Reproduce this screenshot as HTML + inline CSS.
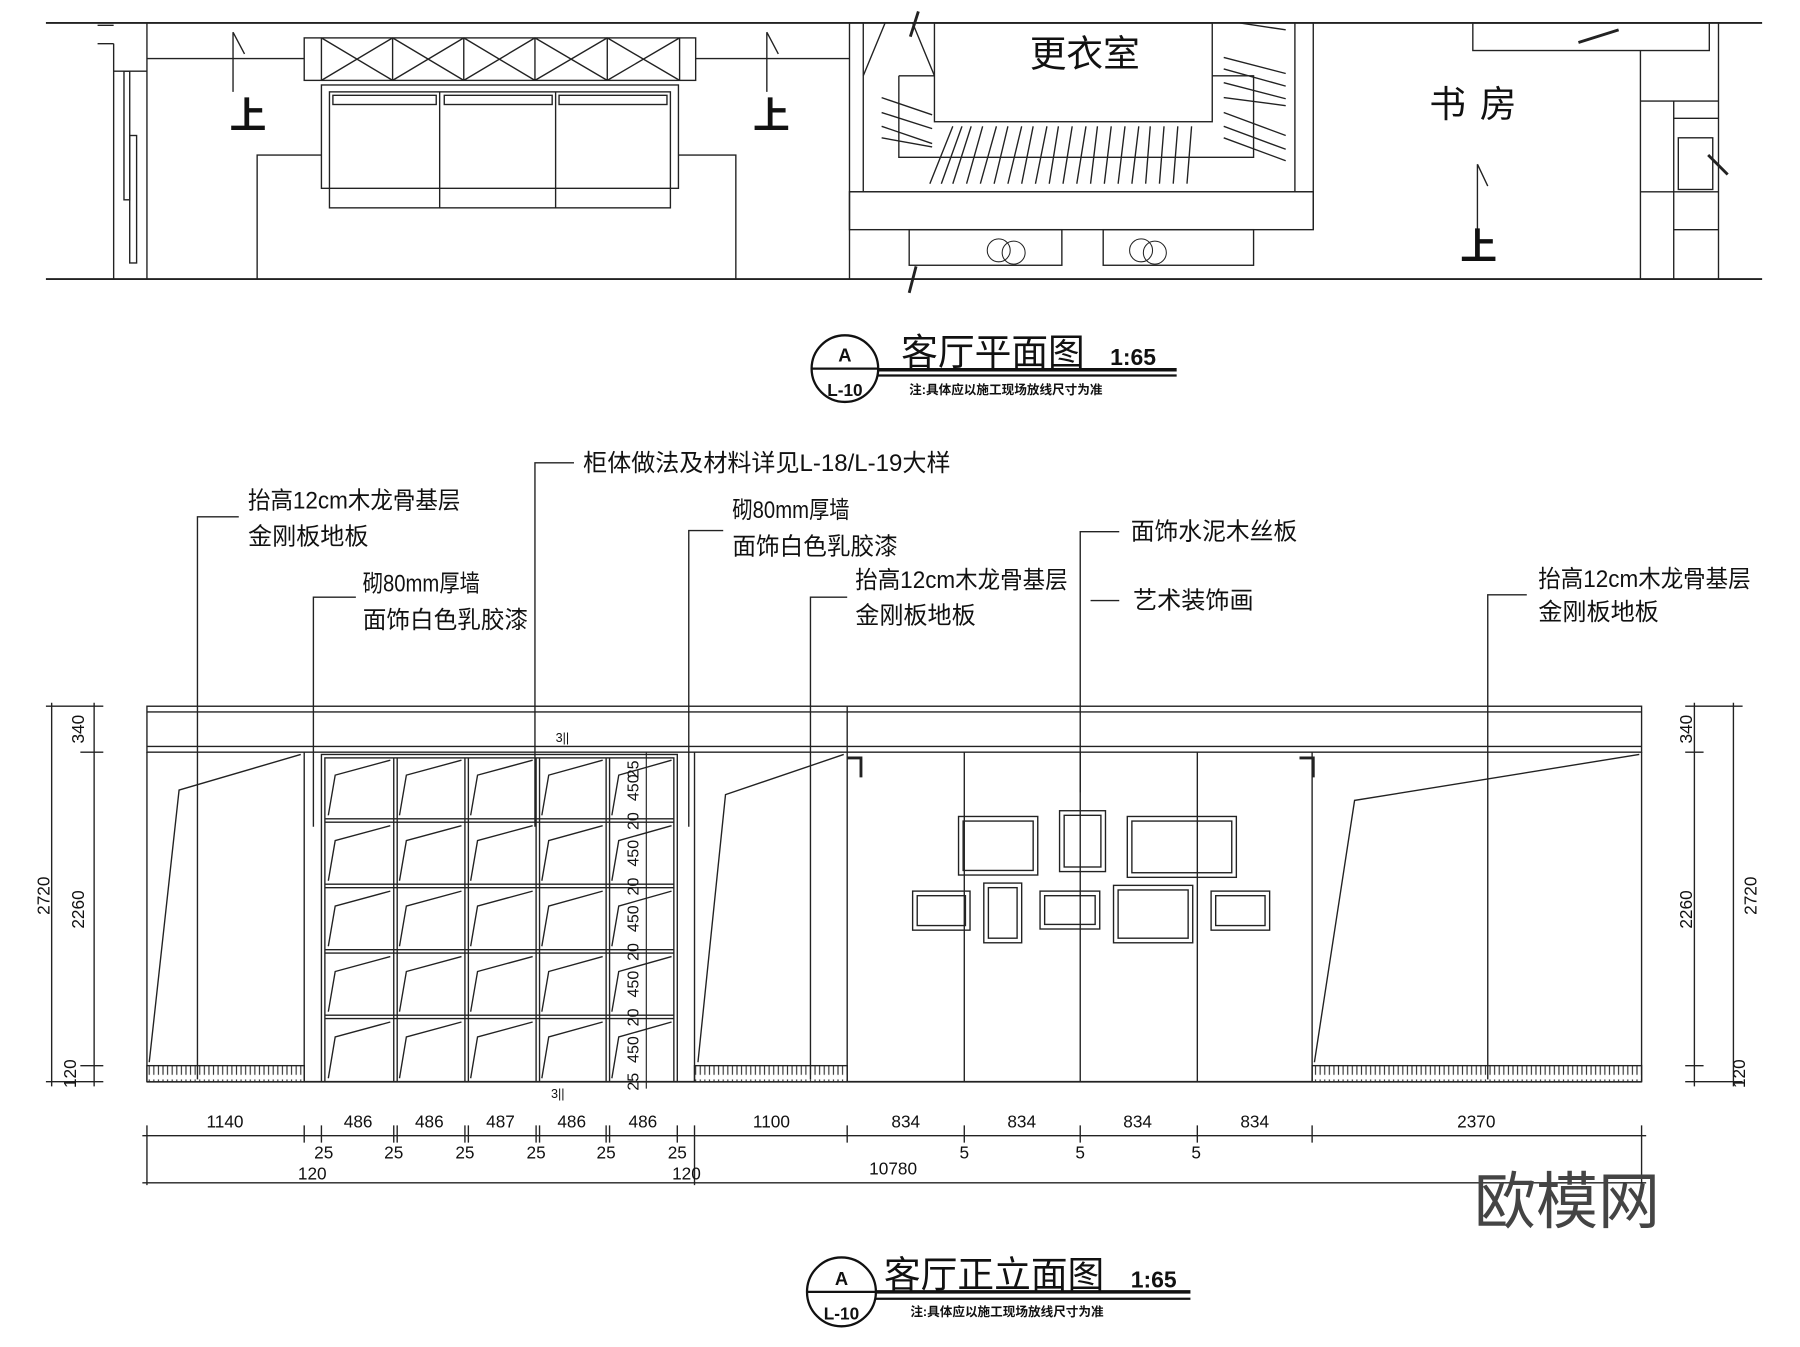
<!DOCTYPE html>
<html><head><meta charset="utf-8"><style>html,body{margin:0;padding:0;background:#fff}svg{display:block}</style></head>
<body>
<svg width="1800" height="1347" viewBox="0 0 1568 1173" preserveAspectRatio="none" xmlns="http://www.w3.org/2000/svg" font-family="'Liberation Sans','Noto Sans CJK SC',sans-serif">
<defs>
<pattern id="h" width="4" height="14" patternUnits="userSpaceOnUse"><rect width="4" height="14" fill="#fff"/><line x1="2" y1="2" x2="2" y2="12" stroke="#333" stroke-width="1"/></pattern>
</defs>
<g fill="none" stroke="#222" stroke-width="1.2">
<!-- PLAN -->
<line x1="40" y1="20" x2="1535" y2="20" stroke-width="1.6"/>
<line x1="40" y1="243" x2="1535" y2="243" stroke-width="1.6"/>
<line x1="99" y1="38" x2="99" y2="243"/><line x1="128" y1="20" x2="128" y2="243"/>
<line x1="85" y1="22" x2="99" y2="22"/><line x1="85" y1="38" x2="99" y2="38"/><line x1="99" y1="62" x2="128" y2="62"/>
<rect x="108" y="62" width="5" height="112"/><rect x="113" y="118" width="6" height="111"/>
<line x1="128" y1="51" x2="265" y2="51"/><line x1="606" y1="51" x2="740" y2="51"/>
<rect x="265" y="33" width="341" height="37"/>
<path d="M280 33V70M342 33V70M404 33V70M466 33V70M529 33V70M592 33V70M280 33L342 70M342 33L280 70M342 33L404 70M404 33L342 70M404 33L466 70M466 33L404 70M466 33L529 70M529 33L466 70M529 33L592 70M592 33L529 70"/>
<rect x="280" y="74" width="311" height="90"/>
<rect x="287" y="80" width="297" height="101"/>
<line x1="383" y1="80" x2="383" y2="181"/><line x1="484" y1="80" x2="484" y2="181"/>
<rect x="290" y="83" width="90" height="8"/><rect x="387" y="83" width="94" height="8"/><rect x="487" y="83" width="94" height="8"/>
<path d="M224 243V135H280M591 135H641V243"/>
<path d="M203 28V80M203 28L213 47M668 28V80M668 28L678 47M1287 143V200M1287 143L1296 162"/>
<!-- dressing room -->
<line x1="740" y1="20" x2="740" y2="243"/>
<line x1="752" y1="20" x2="752" y2="167"/>
<rect x="814" y="20" width="242" height="86"/>
<path d="M783 66H814M1056 66H1092V137H783V66"/>
<path d="M771 20L752 66M795 20L814 66"/>
<line x1="1128" y1="20" x2="1128" y2="167"/><line x1="1144" y1="20" x2="1144" y2="200"/>
<line x1="740" y1="167" x2="1144" y2="167"/>
<rect x="740" y="167" width="404" height="33"/>
<rect x="792" y="200" width="133" height="31"/><rect x="961" y="200" width="131" height="31"/>
<path d="M810 160L830 110M820 160L838 110M830 160L846 110M842 160L856 110M854 160L868 110M866 160L878 110M878 160L890 110M890 160L900 110M902 160L912 110M914 160L922 110M926 160L934 110M938 160L946 110M950 160L956 110M962 160L968 110M974 160L980 110M986 160L992 110M998 160L1002 110M1010 160L1014 110M1022 160L1026 110M1034 160L1038 110"/>
<path d="M768 85L812 100M768 98L812 112M768 110L812 125M768 120L812 128M1066 50L1120 64M1066 60L1120 75M1066 72L1120 86M1066 85L1120 92M1066 98L1120 118M1066 110L1120 130M1066 120L1120 140M1080 20L1120 26"/>
<path d="M800 10L793 32M798 232L792 255" stroke-width="2.5"/>
<g stroke-width="0.9"><circle cx="870" cy="218" r="10"/><circle cx="883" cy="220" r="10"/><circle cx="994" cy="218" r="10"/><circle cx="1006" cy="220" r="10"/></g>
<!-- study -->
<rect x="1283" y="20" width="206" height="24"/>
<path d="M1375 37L1410 26" stroke-width="2.5"/>
<line x1="1429" y1="44" x2="1429" y2="243"/><line x1="1458" y1="88" x2="1458" y2="243"/><line x1="1497" y1="20" x2="1497" y2="243"/>
<path d="M1429 88H1497M1458 103H1497M1458 167H1497M1458 200H1497M1429 167H1458"/>
<rect x="1462" y="120" width="30" height="45"/>
<path d="M1488 135L1505 152" stroke-width="2.5"/>
</g>
<g fill="#111" font-size="32">
<text x="200" y="112" font-weight="bold">上</text><text x="656" y="112" font-weight="bold">上</text><text x="1272" y="226" font-weight="bold">上</text>
<text x="897" y="58">更衣室</text>
<text x="1245" y="102">书</text><text x="1289" y="102">房</text>
</g>
<!-- title 1 -->
<g stroke="#111" fill="none" stroke-width="2">
<circle cx="736" cy="321" r="29"/><line x1="707" y1="321" x2="765" y2="321"/>
<line x1="765" y1="322" x2="1025" y2="322" stroke-width="3"/><line x1="765" y1="327" x2="1025" y2="327"/>
</g>
<g fill="#111">
<text x="736" y="315" font-size="16" font-weight="bold" text-anchor="middle">A</text>
<text x="736" y="345" font-size="15" font-weight="bold" text-anchor="middle">L-10</text>
<text x="785" y="318" font-size="32">客厅平面图</text>
<text x="967" y="318" font-size="20" font-weight="bold">1:65</text>
<text x="792" y="343" font-size="11" font-weight="bold">注:具体应以施工现场放线尺寸为准</text>
</g>
<!-- ELEVATION -->
<g fill="none" stroke="#222" stroke-width="1.2">
<rect x="128" y="615" width="1302" height="40"/>
<line x1="128" y1="620" x2="1430" y2="620"/><line x1="128" y1="650" x2="1430" y2="650"/>
<line x1="738" y1="615" x2="738" y2="655"/>
<line x1="128" y1="655" x2="128" y2="942"/><line x1="1430" y1="655" x2="1430" y2="942"/>
<line x1="128" y1="942" x2="1430" y2="942" stroke-width="1.6"/>
<rect x="128" y="928" width="137" height="14" fill="url(#h)"/>
<rect x="605" y="928" width="133" height="14" fill="url(#h)"/>
<rect x="1143" y="928" width="287" height="14" fill="url(#h)"/>
<line x1="265" y1="655" x2="265" y2="942"/><line x1="605" y1="655" x2="605" y2="942"/>
<line x1="738" y1="655" x2="738" y2="942"/><line x1="840" y1="655" x2="840" y2="942"/>
<line x1="941" y1="655" x2="941" y2="942"/><line x1="1043" y1="655" x2="1043" y2="942"/>
<line x1="1143" y1="655" x2="1143" y2="942"/>
<path d="M130 925L156 688L262 657M608 925L632 692L735 657M1145 925L1180 697L1428 657"/>
<rect x="280" y="657" width="310" height="285"/>
<rect x="283" y="660" width="304" height="282"/>
<path d="M343 660V942M346 660V942M405 660V942M408 660V942M467 660V942M470 660V942M528 660V942M531 660V942"/>
<path d="M283 713H587M283 716H587M283 770H587M283 773H587M283 827H587M283 830H587M283 884H587M283 887H587"/>
<path d="M286 710L292 675L340 662M348 710L354 675L402 662M410 710L416 675L464 662M472 710L478 675L525 662M533 710L539 675L585 662
M286 767L292 732L340 719M348 767L354 732L402 719M410 767L416 732L464 719M472 767L478 732L525 719M533 767L539 732L585 719
M286 824L292 789L340 776M348 824L354 789L402 776M410 824L416 789L464 776M472 824L478 789L525 776M533 824L539 789L585 776
M286 881L292 846L340 833M348 881L354 846L402 833M410 881L416 846L464 833M472 881L478 846L525 833M533 881L539 846L585 833
M286 939L292 903L340 890M348 939L354 903L402 890M410 939L416 903L464 890M472 939L478 903L525 890M533 939L539 903L585 890"/>
<line x1="563" y1="655" x2="563" y2="948" stroke-width="1"/>
<path d="M738 660H750V677M1132 660H1144V677" stroke-width="2.5"/>
<!-- frames -->
<rect x="835" y="711" width="69" height="51"/><rect x="839" y="715" width="61" height="43"/>
<rect x="923" y="706" width="40" height="53"/><rect x="927" y="710" width="32" height="45"/>
<rect x="982" y="711" width="95" height="53"/><rect x="986" y="715" width="87" height="45"/>
<rect x="795" y="776" width="50" height="34"/><rect x="799" y="780" width="42" height="26"/>
<rect x="857" y="769" width="33" height="52"/><rect x="861" y="773" width="25" height="44"/>
<rect x="906" y="776" width="52" height="33"/><rect x="910" y="780" width="44" height="25"/>
<rect x="970" y="771" width="69" height="50"/><rect x="974" y="775" width="61" height="42"/>
<rect x="1055" y="776" width="51" height="34"/><rect x="1059" y="780" width="43" height="26"/>
<!-- leaders -->
<path d="M208 450H172V940M310 520H273V720M500 403H466V720M630 462H600V720M738 520H706V940M975 463H941V690M950 523H975M1330 518H1296V940"/>
<!-- dims left -->
<line x1="82" y1="612" x2="82" y2="946"/><line x1="45" y1="612" x2="45" y2="946"/>
<path d="M40 615H90M70 655H90M70 928H90M40 942H90"/>
<line x1="1476" y1="612" x2="1476" y2="946"/><line x1="1510" y1="612" x2="1510" y2="946"/>
<path d="M1468 615H1518M1468 655H1484M1468 928H1484M1468 942H1518"/>
<!-- dims bottom -->
<line x1="124" y1="989" x2="1434" y2="989"/><line x1="124" y1="1030" x2="1434" y2="1030"/>
<path d="M128 980V1032M265 980V995M280 980V995M343 980V995M346 980V995M405 980V995M408 980V995M467 980V995M470 980V995M528 980V995M531 980V995M590 980V995M605 980V1032M738 980V995M840 980V995M941 980V995M1043 980V995M1143 980V995M1430 980V1032"/>
</g>
<g fill="#111" font-size="21">
<text x="216" y="443" textLength="185" lengthAdjust="spacingAndGlyphs">抬高12cm木龙骨基层</text><text x="216" y="474">金刚板地板</text>
<text x="316" y="515" textLength="102" lengthAdjust="spacingAndGlyphs">砌80mm厚墙</text><text x="316" y="547" textLength="144" lengthAdjust="spacingAndGlyphs">面饰白色乳胶漆</text>
<text x="508" y="410" textLength="320" lengthAdjust="spacingAndGlyphs">柜体做法及材料详见L-18/L-19大样</text>
<text x="638" y="451" textLength="102" lengthAdjust="spacingAndGlyphs">砌80mm厚墙</text><text x="638" y="483" textLength="144" lengthAdjust="spacingAndGlyphs">面饰白色乳胶漆</text>
<text x="745" y="512" textLength="185" lengthAdjust="spacingAndGlyphs">抬高12cm木龙骨基层</text><text x="745" y="543">金刚板地板</text>
<text x="985" y="470" textLength="145" lengthAdjust="spacingAndGlyphs">面饰水泥木丝板</text>
<text x="987" y="530">艺术装饰画</text>
<text x="1340" y="511" textLength="185" lengthAdjust="spacingAndGlyphs">抬高12cm木龙骨基层</text><text x="1340" y="540">金刚板地板</text>
</g>
<g fill="#111" font-size="15" font-family="'Liberation Sans Narrow','Liberation Sans',sans-serif">
<text x="196" y="982" text-anchor="middle">1140</text>
<text x="312" y="982" text-anchor="middle">486</text><text x="374" y="982" text-anchor="middle">486</text>
<text x="436" y="982" text-anchor="middle">487</text><text x="498" y="982" text-anchor="middle">486</text>
<text x="560" y="982" text-anchor="middle">486</text><text x="672" y="982" text-anchor="middle">1100</text>
<text x="789" y="982" text-anchor="middle">834</text><text x="890" y="982" text-anchor="middle">834</text>
<text x="991" y="982" text-anchor="middle">834</text><text x="1093" y="982" text-anchor="middle">834</text>
<text x="1286" y="982" text-anchor="middle">2370</text>
<text x="282" y="1009" text-anchor="middle">25</text><text x="343" y="1009" text-anchor="middle">25</text>
<text x="405" y="1009" text-anchor="middle">25</text><text x="467" y="1009" text-anchor="middle">25</text>
<text x="528" y="1009" text-anchor="middle">25</text><text x="590" y="1009" text-anchor="middle">25</text>
<text x="840" y="1009" text-anchor="middle">5</text><text x="941" y="1009" text-anchor="middle">5</text><text x="1042" y="1009" text-anchor="middle">5</text>
<text x="272" y="1027" text-anchor="middle">120</text><text x="598" y="1027" text-anchor="middle">120</text>
<text x="778" y="1023" text-anchor="middle">10780</text>
<text x="484" y="646" font-size="11">3||</text><text x="480" y="956" font-size="11">3||</text>
<text transform="translate(73,635) rotate(-90)" text-anchor="middle">340</text>
<text transform="translate(73,792) rotate(-90)" text-anchor="middle">2260</text>
<text transform="translate(43,780) rotate(-90)" text-anchor="middle">2720</text>
<text transform="translate(66,935) rotate(-90)" text-anchor="middle">120</text>
<text transform="translate(1474,635) rotate(-90)" text-anchor="middle">340</text>
<text transform="translate(1474,792) rotate(-90)" text-anchor="middle">2260</text>
<text transform="translate(1530,780) rotate(-90)" text-anchor="middle">2720</text>
<text transform="translate(1520,935) rotate(-90)" text-anchor="middle">120</text>
<g font-size="14">
<text transform="translate(556,670) rotate(-90)" text-anchor="middle">25</text>
<text transform="translate(556,686) rotate(-90)" text-anchor="middle">450</text>
<text transform="translate(556,715) rotate(-90)" text-anchor="middle">20</text>
<text transform="translate(556,743) rotate(-90)" text-anchor="middle">450</text>
<text transform="translate(556,772) rotate(-90)" text-anchor="middle">20</text>
<text transform="translate(556,800) rotate(-90)" text-anchor="middle">450</text>
<text transform="translate(556,829) rotate(-90)" text-anchor="middle">20</text>
<text transform="translate(556,857) rotate(-90)" text-anchor="middle">450</text>
<text transform="translate(556,886) rotate(-90)" text-anchor="middle">20</text>
<text transform="translate(556,914) rotate(-90)" text-anchor="middle">450</text>
<text transform="translate(556,942) rotate(-90)" text-anchor="middle">25</text>
</g>
</g>
<text x="1284" y="1065" font-size="54" fill="#444">欧模网</text>
<!-- title 2 -->
<g stroke="#111" fill="none" stroke-width="2">
<circle cx="733" cy="1125" r="30"/><line x1="703" y1="1125" x2="763" y2="1125"/>
<line x1="763" y1="1125" x2="1037" y2="1125" stroke-width="3"/><line x1="763" y1="1131" x2="1037" y2="1131"/>
</g>
<g fill="#111">
<text x="733" y="1119" font-size="16" font-weight="bold" text-anchor="middle">A</text>
<text x="733" y="1149" font-size="15" font-weight="bold" text-anchor="middle">L-10</text>
<text x="770" y="1121" font-size="32">客厅正立面图</text>
<text x="985" y="1121" font-size="20" font-weight="bold">1:65</text>
<text x="793" y="1146" font-size="11" font-weight="bold">注:具体应以施工现场放线尺寸为准</text>
</g>
</svg>
</body></html>
